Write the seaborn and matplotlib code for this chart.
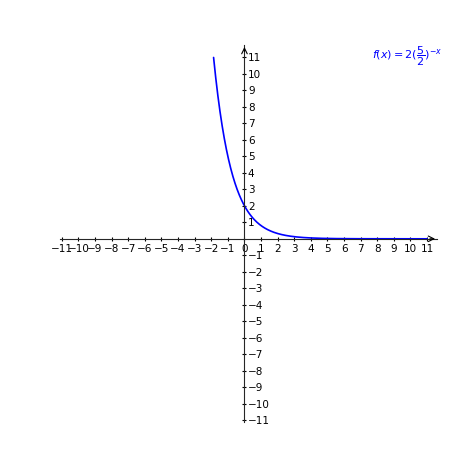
import numpy as np
import matplotlib
matplotlib.use("Agg")
import matplotlib.pyplot as plt
import seaborn as sns

sns.set_style("white")
plt.rcParams['font.family'] = ['DejaVu Sans']

base = 2.5
coef = 2.0
x_start, x_end = -1.86, 11.0
x_ticks = [v for v in range(-11, 12)]
y_ticks = [v for v in range(-11, 12) if v != 0]

xs = np.linspace(x_start, x_end, 400)
ys = coef * base ** (-xs)

fig = plt.figure(figsize=(4.74, 4.74), dpi=100)
ax = fig.add_axes([0.127, 0.110, 0.795, 0.795])
sns.lineplot(x=xs, y=ys, ax=ax, color="blue", linewidth=1.2)
ax.set_xlim(-11.1, 11.6)
ax.set_ylim(-11.1, 11.75)
for s in ["top", "right"]:
    ax.spines[s].set_visible(False)
ax.spines["left"].set_position(("data", 0))
ax.spines["bottom"].set_position(("data", 0))
ax.set_xticks(x_ticks)
ax.set_yticks(y_ticks)
ax.set_xticklabels([f"{v}".replace("-", "\u2212") for v in x_ticks])
ax.set_yticklabels([f"{v}".replace("-", "\u2212") for v in y_ticks])
ax.tick_params(axis="both", labelsize=7.5, length=3, direction="inout", colors="black")
ax.tick_params(axis="x", bottom=True, pad=2)
ax.tick_params(axis="y", left=True, right=False, labelleft=True, pad=-4)
for lab in ax.get_yticklabels():
    lab.set_horizontalalignment("left")
ax.annotate('', xy=(11.65, 0), xytext=(11.0, 0), arrowprops=dict(arrowstyle='->', color='k', lw=0.8), annotation_clip=False)
ax.annotate('', xy=(0, 11.8), xytext=(0, 11.2), arrowprops=dict(arrowstyle='->', color='k', lw=0.8), annotation_clip=False)
fig.text(0.785, 0.875, r"$f(x) = 2(\dfrac{5}{2})^{-x}$", color="blue", fontsize=8)
fig.savefig("out.png", dpi=100)
